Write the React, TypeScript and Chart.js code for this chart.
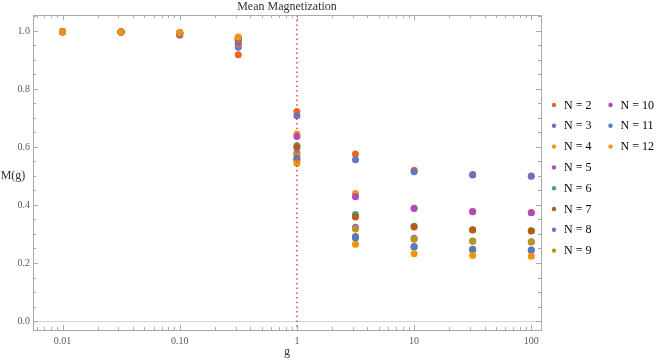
import React, { useEffect, useRef } from 'react';
import { Chart, registerables } from 'chart.js';

Chart.register(...registerables);

// ---------- data ----------
const gValues = [0.01, 0.0316, 0.1, 0.316, 1, 3.16, 10, 31.6, 100];

const nLabels = ['N = 2', 'N = 3', 'N = 4', 'N = 5', 'N = 6', 'N = 7', 'N = 8', 'N = 9', 'N = 10', 'N = 11', 'N = 12'];

const m2 = [0.997, 0.996, 0.985, 0.918, 0.722, 0.576, 0.520, 0.505, 0.500];
const m3 = [0.997, 0.996, 0.988, 0.944, 0.708, 0.556, 0.515, 0.503, 0.499];
const m4 = [0.997, 0.996, 0.990, 0.955, 0.645, 0.440, 0.390, 0.378, 0.374];
const m5 = [0.997, 0.996, 0.991, 0.958, 0.636, 0.428, 0.388, 0.377, 0.373];
const m6 = [0.997, 0.996, 0.992, 0.965, 0.604, 0.367, 0.327, 0.315, 0.311];
const m7 = [0.997, 0.996, 0.992, 0.967, 0.598, 0.359, 0.324, 0.314, 0.310];
const m8 = [0.997, 0.996, 0.993, 0.971, 0.578, 0.323, 0.285, 0.276, 0.273];
const m9 = [0.997, 0.996, 0.993, 0.972, 0.572, 0.317, 0.282, 0.275, 0.272];
const m10 = [0.997, 0.996, 0.994, 0.975, 0.560, 0.291, 0.257, 0.247, 0.245];
const m11 = [0.997, 0.996, 0.994, 0.976, 0.555, 0.286, 0.255, 0.246, 0.244];
const m12 = [0.997, 0.996, 0.995, 0.979, 0.544, 0.265, 0.232, 0.226, 0.223];

const seriesValues = [m2, m3, m4, m5, m6, m7, m8, m9, m10, m11, m12];

const seriesColors = [
  '#e8671f', '#6474c9', '#f5950f', '#ad4cbf', '#4a9e83', '#b95c12',
  '#8e62d6', '#b8981a', '#b04aa8', '#4d80b8', '#f5920c',
];

const xTickValues = [0.01, 0.1, 1, 10, 100];
const xTickLabels = ['0.01', '0.10', '1', '10', '100'];
const yTickValues = [0, 0.2, 0.4, 0.6, 0.8, 1.0];
const yTickLabels = ['0.0', '0.2', '0.4', '0.6', '0.8', '1.0'];

const chartTitle = 'Mean Magnetization';
const xTitle = 'g';
const yTitle = 'M(g)';
const criticalG = 1;

const SERIF = "'Liberation Serif', 'Times New Roman', 'DejaVu Serif', serif";
const FRAME = '#a9a9a9';

const framePlugin = {
  id: 'mmaFrame',
  beforeDatasetsDraw(chart: any) {
    const { ctx, chartArea: a, scales } = chart;
    const ys = scales.y;
    ctx.save();
    const y0 = Math.round(ys.getPixelForValue(0)) + 0.5;
    ctx.strokeStyle = '#d4d4d4';
    ctx.lineWidth = 1;
    ctx.beginPath();
    ctx.moveTo(a.left, y0);
    ctx.lineTo(a.right, y0);
    ctx.stroke();
    ctx.restore();
  },
  afterDatasetsDraw(chart: any) {
    const { ctx, chartArea: a, scales } = chart;
    const xs = scales.x;
    ctx.save();
    const xc = xs.getPixelForValue(criticalG);
    ctx.strokeStyle = '#ff3a3a';
    ctx.lineWidth = 1.5;
    ctx.setLineDash([1.5, 3.2]);
    ctx.beginPath();
    ctx.moveTo(xc, a.top);
    ctx.lineTo(xc, a.bottom);
    ctx.stroke();
    ctx.restore();
  },
  afterDraw(chart: any) {
    const { ctx, chartArea: a, scales } = chart;
    const xs = scales.x;
    const ys = scales.y;
    ctx.save();
    // frame
    ctx.strokeStyle = FRAME;
    ctx.lineWidth = 1;
    ctx.strokeRect(Math.round(a.left) + 0.5, Math.round(a.top) + 0.5,
      Math.round(a.right - a.left), Math.round(a.bottom - a.top));
    // x ticks (log, inward on top and bottom)
    ctx.beginPath();
    for (let d = -3; d <= 2; d++) {
      for (let k = 1; k <= 9; k++) {
        const v = k * Math.pow(10, d);
        if (v < xs.min || v > xs.max) continue;
        const px = Math.round(xs.getPixelForValue(v)) + 0.5;
        const len = k === 1 ? 5 : 3;
        ctx.moveTo(px, a.bottom);
        ctx.lineTo(px, a.bottom - len);
        ctx.moveTo(px, a.top);
        ctx.lineTo(px, a.top + len);
      }
    }
    // y ticks
    for (let i = 0; i <= 21; i++) {
      const v = i * 0.05;
      if (v < ys.min || v > ys.max) continue;
      const py = Math.round(ys.getPixelForValue(v)) + 0.5;
      const len = i % 4 === 0 ? 5 : 3;
      ctx.moveTo(a.left, py);
      ctx.lineTo(a.left + len, py);
      ctx.moveTo(a.right, py);
      ctx.lineTo(a.right - len, py);
    }
    ctx.stroke();

    // titles
    ctx.fillStyle = '#333';
    ctx.font = `12px ${SERIF}`;
    ctx.textAlign = 'center';
    ctx.textBaseline = 'middle';
    ctx.fillText(chartTitle, (a.left + a.right) / 2, 7);
    ctx.fillText(xTitle, (a.left + a.right) / 2, 352);
    ctx.fillText(yTitle, 13, 176);

    // legend (two columns, 8 rows)
    ctx.font = `12px ${SERIF}`;
    ctx.textAlign = 'left';
    const rowH = 20.8;
    nLabels.forEach((lab, i) => {
      const col = i < 8 ? 0 : 1;
      const row = i < 8 ? i : i - 8;
      const dotX = col === 0 ? 554 : 610.5;
      const textX = col === 0 ? 564 : 620.5;
      const y = 105 + row * rowH;
      ctx.fillStyle = seriesColors[i];
      ctx.beginPath();
      ctx.arc(dotX, y, 2.2, 0, Math.PI * 2);
      ctx.fill();
      ctx.fillStyle = '#000';
      ctx.fillText(lab, textX, y + 0.5);
    });
    ctx.restore();
  },
};

export default function App() {
  const ref = useRef<HTMLCanvasElement | null>(null);

  useEffect(() => {
    if (!ref.current) return;
    const datasets = seriesValues.map((vals, i) => ({
      label: nLabels[i],
      data: gValues.map((g, j) => ({ x: g, y: vals[j] })),
      backgroundColor: seriesColors[i],
      borderColor: seriesColors[i],
      borderWidth: 0,
      pointRadius: 3.5,
      pointHoverRadius: 3.5,
      showLine: false,
      order: seriesValues.length - i,
    }));

    const chart = new Chart(ref.current, {
      type: 'scatter',
      data: { datasets },
      options: {
        responsive: false,
        animation: false,
        devicePixelRatio: 1,
        layout: { padding: { top: 15, right: 119, left: 0, bottom: 0 } },
        plugins: {
          legend: { display: false },
          title: { display: false },
          tooltip: { enabled: false },
        },
        scales: {
          x: {
            type: 'logarithmic',
            position: 'bottom',
            min: 0.0056,
            max: 121,
            grid: { display: false, drawTicks: false },
            border: { display: false },
            afterBuildTicks: (s: any) => {
              s.ticks = xTickValues.map((v) => ({ value: v }));
            },
            afterFit: (s: any) => {
              s.height = 31;
            },
            ticks: {
              autoSkip: false,
              maxRotation: 0,
              padding: 5,
              color: '#5a5a5a',
              font: { family: SERIF, size: 10 },
              callback: (v: any) => {
                const idx = xTickValues.findIndex((t) => Math.abs(t - Number(v)) < 1e-9);
                return idx >= 0 ? xTickLabels[idx] : '';
              },
            },
          },
          y: {
            type: 'linear',
            min: -0.031,
            max: 1.055,
            grid: { display: false, drawTicks: false },
            border: { display: false },
            afterBuildTicks: (s: any) => {
              s.ticks = yTickValues.map((v) => ({ value: v }));
            },
            afterFit: (s: any) => {
              s.width = 33;
            },
            ticks: {
              autoSkip: false,
              padding: 3,
              color: '#5a5a5a',
              font: { family: SERIF, size: 10 },
              callback: (v: any) => {
                const idx = yTickValues.findIndex((t) => Math.abs(t - Number(v)) < 1e-9);
                return idx >= 0 ? yTickLabels[idx] : '';
              },
            },
          },
        },
      },
      plugins: [framePlugin],
    } as any);

    return () => chart.destroy();
  }, []);

  return (
    <div style={{ position: 'fixed', left: 0, top: 0, width: 660, height: 361, background: '#fff' }}>
      <canvas ref={ref} width={660} height={361} style={{ display: 'block', width: 660, height: 361 }} />
    </div>
  );
}
